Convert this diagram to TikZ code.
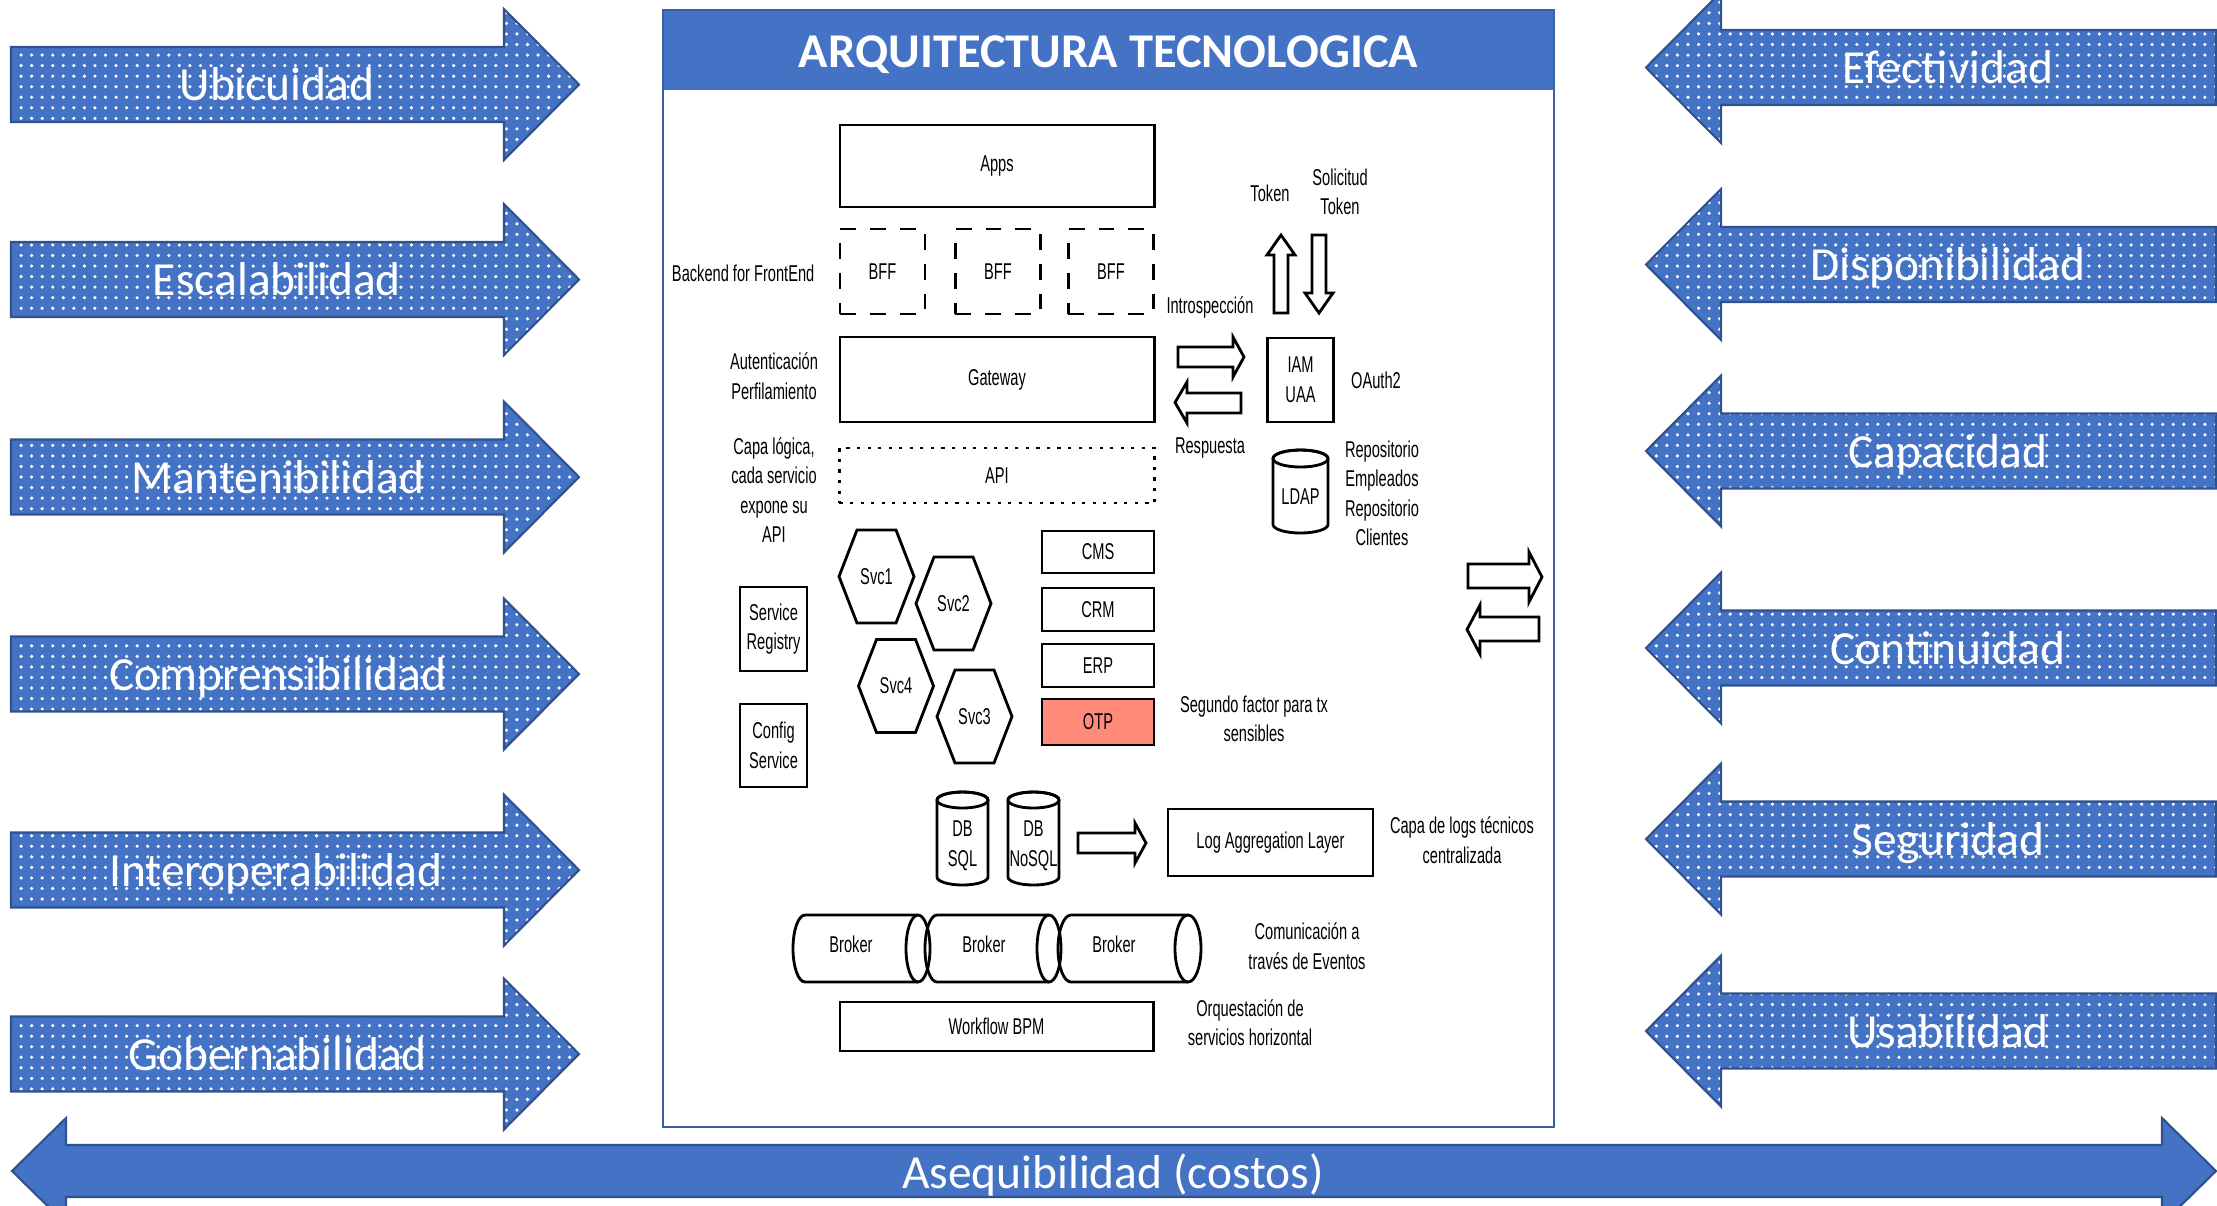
\documentclass[tikz,border=0pt]{standalone}
\usepackage{fontspec}
\setmainfont{Carlito}
\newfontfamily\narrowsans[FakeStretch=0.64]{Liberation Sans}
\usetikzlibrary{patterns,calc}

\definecolor{qblue}{HTML}{4472C4}
\definecolor{qedge}{HTML}{2F528F}
\definecolor{otpfill}{HTML}{FF8A7A}

% quality attribute arrows (centre line y given)
\newcommand\qualArrowRight[1]{%
  \path[qarrow] (11,#1-37.5) -- (504,#1-37.5) -- (504,#1-75.5) -- (579,#1)
    -- (504,#1+75.5) -- (504,#1+37.5) -- (11,#1+37.5) -- cycle;}
\newcommand\qualArrowLeft[1]{%
  \path[qarrow] (2216,#1-37.5) -- (1721,#1-37.5) -- (1721,#1-75.5) -- (1646,#1)
    -- (1721,#1+75.5) -- (1721,#1+37.5) -- (2216,#1+37.5) -- cycle;}
% hexagon round a service node
\newcommand\svcHexagon[1]{%
  \draw[shapeline] ($(#1)+(-37.5,0)$) -- ++(18,-46.5) -- ++(39,0) -- ++(18,46.5)
    -- ++(-18,46.5) -- ++(-39,0) -- cycle;}
% upright database cylinder: centre x, x radius, top, bottom, y radius
\newcommand\dbCylinder[5]{%
  \draw[shapeline, fill=white] (#1-#2,#3+#5) -- (#1-#2,#4-#5)
     arc[start angle=180, end angle=0, x radius=#2, y radius=#5]
     -- (#1+#2,#3+#5) arc[start angle=0, end angle=-180, x radius=#2, y radius=#5] -- cycle;
  \draw[shapeline] (#1,#3+#5) ellipse[x radius=#2, y radius=#5];}
% lying broker cylinder: left x, right x, centre y, y radius, x radius
\newcommand\brokerCylinder[5]{%
  \draw[shapeline] (#2-#5,#3-#4) -- (#1+#5,#3-#4)
     arc[start angle=-90, end angle=-270, x radius=#5, y radius=#4]
     -- (#2-#5,#3+#4);
  \draw[shapeline] (#2-#5,#3) ellipse[x radius=#5, y radius=#4];}

\begin{document}
\begin{tikzpicture}[x=0.01cm, y=-0.01cm,
  qarrow/.style={preaction={fill=qblue}, pattern=dots, pattern color=white,
                 draw=qedge, line width=0.6pt},
  qlabel/.style={text=white, font=\fontsize{13.5}{16}\selectfont, inner sep=0pt, anchor=base},
  inner/.style={font=\narrowsans\fontsize{6.5}{8.4}\selectfont, text=black,
                align=center, inner sep=0pt},
  archbox/.style={inner, draw, line width=0.8pt, fill=white},
  bffbox/.style={inner, draw, line width=0.8pt, dash pattern=on 4.5pt off 4pt,
                 minimum width=0.85cm, minimum height=0.85cm},
  apibox/.style={inner, draw, line width=0.8pt, dash pattern=on 0.9pt off 2.1pt},
  sidebox/.style={archbox, minimum width=1.12cm, minimum height=0.43cm},
  shapeline/.style={draw=black, line width=0.8pt},
  blockarrow/.style={draw=black, line width=0.8pt, fill=white, line join=miter},
]
\useasboundingbox (0,0) rectangle (2217,1205);

% ---------- quality attributes, left ----------
\qualArrowRight{84.5}  \node[qlabel] (ubicuidad)  at (277,100.5) {Ubicuidad};
\qualArrowRight{279.5} \node[qlabel] (escala)     at (277,295.5) {Escalabilidad};
\qualArrowRight{477}   \node[qlabel] (manten)     at (278,493)   {Mantenibilidad};
\qualArrowRight{674}   \node[qlabel] (compren)    at (278,690)   {Comprensibilidad};
\qualArrowRight{870}   \node[qlabel] (interop)    at (276,886)   {Interoperabilidad};
\qualArrowRight{1054}  \node[qlabel] (gobern)     at (278,1070)  {Gobernabilidad};

% ---------- quality attributes, right ----------
\qualArrowLeft{67.5}   \node[qlabel] (efectiv)    at (1948,83.5)  {Efectividad};
\qualArrowLeft{264.5}  \node[qlabel] (disponib)   at (1948,280.5) {Disponibilidad};
\qualArrowLeft{451}    \node[qlabel] (capacidad)  at (1948,467)   {Capacidad};
\qualArrowLeft{648}    \node[qlabel] (continuid)  at (1948,664)   {Continuidad};
\qualArrowLeft{839}    \node[qlabel] (seguridad)  at (1948,855)   {Seguridad};
\qualArrowLeft{1031}   \node[qlabel] (usabilidad) at (1948,1047)  {Usabilidad};

% ---------- cost arrow along the bottom ----------
\path[draw=qedge, line width=0.6pt, fill=qblue]
  (66,1145) -- (2162,1145) -- (2162,1118) -- (2216,1171) -- (2162,1224)
  -- (2162,1197) -- (66,1197) -- (66,1224) -- (12,1171) -- (66,1118) -- cycle;
\node[qlabel] (costos) at (1113,1188) {Asequibilidad (costos)};

% ---------- architecture frame ----------
\fill[qblue] (663,10) rectangle (1554,90);
\draw[qblue!85!black, line width=0.7pt] (663,10) rectangle (1554,1127);
\node[text=white, font=\bfseries\fontsize{13.8}{16}\selectfont, inner sep=0pt, anchor=base]
  (title) at (1108.5,67) {ARQUITECTURA TECNOLOGICA};

% front layers
\node[archbox, minimum width=3.14cm, minimum height=0.82cm] (apps) at (997,166) {Apps};
\node[bffbox] (bff1) at (882.5,271.5) {BFF};
\node[bffbox] (bff2) at (998,271.5) {BFF};
\node[bffbox] (bff3) at (1111,271.5) {BFF};
\node[inner, anchor=east] (bfflabel) at (815,273) {Backend for FrontEnd};
\node[archbox, minimum width=3.14cm, minimum height=0.85cm] (gateway) at (997,379.5) {Gateway};
\node[inner] (authlabel) at (774,376) {Autenticación\\Perfilamiento};
\node[apibox, minimum width=3.15cm, minimum height=0.55cm] (api) at (997,475.5) {API};
\node[inner] (capalabel) at (774,490) {Capa lógica,\\cada servicio\\expone su\\API};

% identity provider
\node[archbox, minimum width=0.66cm, minimum height=0.84cm] (iam) at (1300.5,380) {IAM\\UAA};
\node[inner] (oauth) at (1376,380) {OAuth2};
\node[inner] (intro) at (1210,307) {Introspección};
\node[inner] (resp) at (1210,448) {Respuesta};
\node[inner] (token) at (1270,193) {Token};
\node[inner] (solicitud) at (1340,192) {Solicitud\\Token};
\path[blockarrow] (1178,347) -- (1233,347) -- (1233,337) -- (1244,357) -- (1233,377)
  -- (1233,367) -- (1178,367) -- cycle;
\path[blockarrow] (1241,393) -- (1187,393) -- (1187,382) -- (1175,402.5) -- (1187,423)
  -- (1187,413) -- (1241,413) -- cycle;
\path[blockarrow] (1274,313) -- (1274,255) -- (1267,255) -- (1281,235) -- (1295,255)
  -- (1288,255) -- (1288,313) -- cycle;
\path[blockarrow] (1312,235) -- (1326,235) -- (1326,293) -- (1333,293) -- (1319,313)
  -- (1305,293) -- (1312,293) -- cycle;
\dbCylinder{1300.5}{27.5}{450}{533}{8.5}
\node[inner] (ldap) at (1300.5,497) {LDAP};
\node[inner] (repos) at (1382,493.5) {Repositorio\\Empleados\\Repositorio\\Clientes};

% platform services
\node[archbox, minimum width=0.67cm, minimum height=0.84cm] (registry) at (773.5,629) {Service\\Registry};
\node[archbox, minimum width=0.67cm, minimum height=0.83cm] (config) at (773.5,745.5) {Config\\Service};

% microservices
\node[inner] (svc1) at (876.5,576.5) {Svc1};
\node[inner] (svc2) at (953.5,603.5) {Svc2};
\node[inner] (svc4) at (896,686) {Svc4};
\node[inner] (svc3) at (974.5,716.5) {Svc3};
\svcHexagon{svc1}
\svcHexagon{svc2}
\svcHexagon{svc4}
\svcHexagon{svc3}

% enterprise systems
\node[sidebox, minimum height=0.42cm] (cms) at (1098,552) {CMS};
\node[sidebox] (crm) at (1098,609.5) {CRM};
\node[sidebox] (erp) at (1098,665.5) {ERP};
\node[sidebox, fill=otpfill, minimum height=0.46cm] (otp) at (1098,722) {OTP};
\node[inner] (segundo) at (1254,719) {Segundo factor para tx\\sensibles};

% data and logs
\dbCylinder{962.5}{25.5}{792}{885}{8}
\dbCylinder{1033.5}{25.5}{792}{885}{8}
\node[inner] (dbsql) at (962.5,846) {DB\\SQL};
\node[inner] (dbnosql) at (1033.5,846) {DB\\NoSQL};
\path[blockarrow] (1078,833) -- (1135,833) -- (1135,823) -- (1146,843) -- (1135,863)
  -- (1135,853) -- (1078,853) -- cycle;
\node[archbox, minimum width=2.05cm, minimum height=0.67cm] (logagg) at (1270.5,842.5) {Log Aggregation Layer};
\node[inner] (capalogs) at (1462,840) {Capa de logs técnicos\\centralizada};

% event brokers
\brokerCylinder{793}{930}{948.5}{33.5}{12}
\brokerCylinder{925}{1061}{948.5}{33.5}{12}
\brokerCylinder{1058}{1201}{948.5}{33.5}{13}
\node[inner] (broker1) at (851,944) {Broker};
\node[inner] (broker2) at (984,944) {Broker};
\node[inner] (broker3) at (1114,944) {Broker};
\node[inner] (comunic) at (1307,946) {Comunicación a\\través de Eventos};

% orchestration
\node[archbox, minimum width=3.13cm, minimum height=0.49cm] (workflow) at (996.5,1026.5) {Workflow BPM};
\node[inner] (orquest) at (1250,1022.5) {Orquestación de\\servicios horizontal};

% exchange with the outside
\path[blockarrow] (1468,564) -- (1529,564) -- (1529,552) -- (1542,577) -- (1529,602)
  -- (1529,588) -- (1468,588) -- cycle;
\path[blockarrow] (1539,617) -- (1480,617) -- (1480,605) -- (1467,629.5) -- (1480,654)
  -- (1480,641) -- (1539,641) -- cycle;
\end{tikzpicture}
\end{document}
